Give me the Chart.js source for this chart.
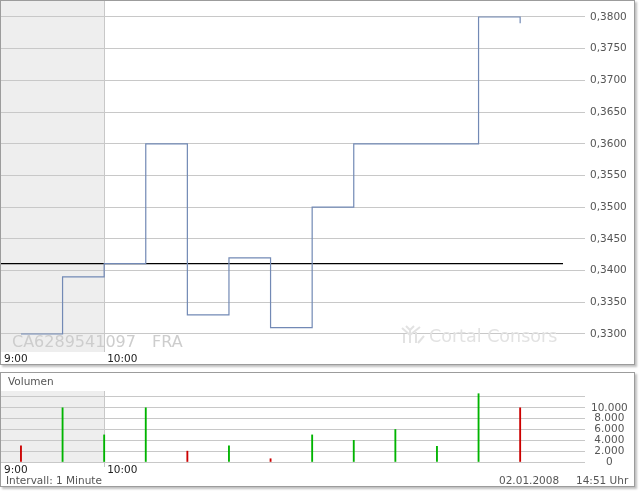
<!DOCTYPE html>
<html>
<head>
<meta charset="utf-8">
<script src="https://cdn.jsdelivr.net/npm/chart.js@4/dist/chart.umd.min.js"></script>
<style>
  body { margin: 0; background: #fff; width: 640px; height: 492px; overflow: hidden; font-family: 'DejaVu Sans', sans-serif; }
  .panel { position: absolute; left: 0; width: 633px; border: 1px solid #9c9c9c; box-shadow: 2px 2px 2px rgba(0,0,0,0.25); background: #fff; }
  .wrap { position: absolute; left: 0; width: 640px; }
  .txt { position: absolute; font-size: 10.5px; color: #555; white-space: nowrap; line-height: 13px; }
</style>
</head>
<body>
<div class="panel" style="top:0;height:363px"></div>
<div class="panel" style="top:372px;height:113px"></div>
<div class="wrap" style="top:0;height:366px"><canvas id="priceChart"></canvas></div>
<div class="wrap" style="top:366px;height:126px"><canvas id="volChart"></canvas></div>
<div class="txt" style="left:8px;top:375px">Volumen</div>
<div class="txt" style="left:6px;top:474px">Intervall: 1 Minute</div>
<div class="txt" style="left:499px;top:474px">02.01.2008</div>
<div class="txt" style="left:576px;top:474px">14:51 Uhr</div>
<script>
// one trade per minute slot, x = slot index
const prices = [0.3300, 0.3390, 0.3411, 0.3600, 0.3330, 0.3420, 0.3310, 0.3500, 0.3600, 0.3600, 0.3600, 0.3800, 0.3790]
const volumes = [3000, 10000, 5000, 10000, 2000, 3000, 600, 5000, 4000, 6000, 2900, 12600, 10000]
const prevClose = 0.3411
const priceTicks = [0.330, 0.335, 0.340, 0.345, 0.350, 0.355, 0.360, 0.365, 0.370, 0.375, 0.380]
const volTicks = [0, 2000, 4000, 6000, 8000, 10000, 12000]
const timeLabels = ['9:00', '10:00']
const timeTicks = [-0.48, 2]
const sessionStart = 2
const xMin = -0.48
const xMax = 13.03

Chart.defaults.animation = false
Chart.defaults.font.family = 'DejaVu Sans'

const gridColor = '#c8c8c8'

function fixBox(w, h) {
  return scale => {
    if (w) scale.width = w
    if (h) scale.height = h
    scale.paddingLeft = 0
    scale.paddingRight = 0
    scale.paddingTop = 0
    scale.paddingBottom = 0
  }
}

const sessionShade = {
  id: 'sessionShade',
  beforeDraw(chart, args, opts) {
    const { ctx, chartArea: a } = chart
    const xp = chart.scales.x.getPixelForValue(sessionStart)
    ctx.save()
    ctx.fillStyle = '#eeeeee'
    ctx.fillRect(a.left, a.top, xp - a.left, a.bottom - a.top)
    ctx.strokeStyle = gridColor
    ctx.lineWidth = 1
    ctx.beginPath()
    ctx.moveTo(Math.round(xp) + 0.5, a.top)
    ctx.lineTo(Math.round(xp) + 0.5, a.bottom + (opts.extra || 0))
    ctx.stroke()
    ctx.restore()
  }
}

const watermark = {
  id: 'watermark',
  beforeDatasetsDraw(chart) {
    const { ctx } = chart
    ctx.save()
    ctx.fillStyle = '#cdcdcd'
    ctx.font = '16px "DejaVu Sans"'
    ctx.textBaseline = 'alphabetic'
    ctx.fillText('CA6289541097', 12, 347)
    ctx.fillText('FRA', 152, 347)
    ctx.fillStyle = '#e2e2e2'
    ctx.font = '17.5px "DejaVu Sans"'
    ctx.fillText('Cortal Consors', 429, 342)
    // small tree logo
    ctx.strokeStyle = '#e2e2e2'
    ctx.lineWidth = 2
    ctx.beginPath()
    ctx.moveTo(404, 343); ctx.lineTo(404, 334)
    ctx.moveTo(410, 343); ctx.lineTo(410, 330)
    ctx.moveTo(416, 343); ctx.lineTo(416, 332)
    ctx.moveTo(402, 328); ctx.lineTo(410, 335); ctx.lineTo(420, 327)
    ctx.moveTo(406, 326); ctx.lineTo(410, 330); ctx.lineTo(414, 326)
    ctx.moveTo(418, 343); ctx.lineTo(424, 336)
    ctx.stroke()
    ctx.restore()
  }
}

const priceChart = new Chart(document.getElementById('priceChart'), {
  type: 'line',
  data: {
    datasets: [
      {
        data: prices.map((p, i) => ({ x: i, y: p })),
        borderColor: '#7289b5',
        borderWidth: 1.2,
        stepped: true,
        pointRadius: 0,
        fill: false
      },
      {
        data: [{ x: xMin, y: prevClose }, { x: xMax, y: prevClose }],
        borderColor: '#000000',
        borderWidth: 1.2,
        pointRadius: 0,
        fill: false
      }
    ]
  },
  options: {
    responsive: true,
    maintainAspectRatio: false,
    layout: { padding: { left: 1, top: 1, right: 0, bottom: 0 } },
    plugins: { legend: { display: false }, tooltip: { enabled: false }, sessionShade: { extra: 0 } },
    scales: {
      x: {
        type: 'linear',
        min: xMin,
        max: xMax,
        afterFit: fixBox(0, 14),
        afterBuildTicks: scale => { scale.ticks = timeTicks.map(v => ({ value: v })) },
        grid: { display: false, drawTicks: false },
        border: { display: false },
        ticks: {
          autoSkip: false,
          maxRotation: 0,
          align: 'start',
          labelOffset: 3,
          padding: 1,
          color: '#222',
          font: { size: 10.5 },
          callback: (v, i) => timeLabels[i]
        }
      },
      y: {
        position: 'right',
        min: 0.32716,
        max: 0.38252,
        afterFit: fixBox(77, 0),
        afterBuildTicks: scale => { scale.ticks = priceTicks.map(v => ({ value: v })) },
        grid: { color: gridColor, tickColor: gridColor, tickLength: 22, lineWidth: 1 },
        border: { display: false },
        ticks: {
          autoSkip: false,
          padding: 5,
          crossAlign: 'near',
          color: '#555',
          font: { size: 10.5 },
          callback: v => v.toFixed(4).replace('.', ',')
        }
      }
    }
  },
  plugins: [sessionShade, watermark]
})

const volColors = volumes.map((v, i) => {
  const before = i === 0 ? prevClose : prices[i - 1]
  return prices[i] < before ? '#cc0000' : '#00b400'
})

const volChart = new Chart(document.getElementById('volChart'), {
  type: 'bar',
  data: {
    datasets: [
      {
        data: volumes.map((v, i) => ({ x: i, y: v })),
        backgroundColor: volColors,
        barThickness: 1.2
      }
    ]
  },
  options: {
    responsive: true,
    maintainAspectRatio: false,
    layout: { padding: { left: 1, top: 25, right: 0, bottom: 0 } },
    plugins: { legend: { display: false }, tooltip: { enabled: false }, sessionShade: { extra: 5 } },
    scales: {
      x: {
        type: 'linear',
        min: xMin,
        max: xMax,
        offset: false,
        afterFit: fixBox(0, 30),
        afterBuildTicks: scale => { scale.ticks = timeTicks.map(v => ({ value: v })) },
        grid: { display: false, drawTicks: false },
        border: { display: false },
        ticks: {
          autoSkip: false,
          maxRotation: 0,
          align: 'start',
          labelOffset: 3,
          padding: 2,
          color: '#222',
          font: { size: 10.5 },
          callback: (v, i) => timeLabels[i]
        }
      },
      y: {
        position: 'right',
        min: 0,
        max: 13100,
        afterFit: fixBox(77, 0),
        afterBuildTicks: scale => { scale.ticks = volTicks.map(v => ({ value: v })) },
        grid: { color: gridColor, tickColor: gridColor, tickLength: 22, lineWidth: 1 },
        border: { display: false },
        ticks: {
          autoSkip: false,
          padding: 6,
          crossAlign: 'center',
          color: '#555',
          font: { size: 10.5 },
          callback: v => v > 10000 ? '' : v.toLocaleString('de-DE')
        }
      }
    }
  },
  plugins: [sessionShade]
})
</script>
</body>
</html>
